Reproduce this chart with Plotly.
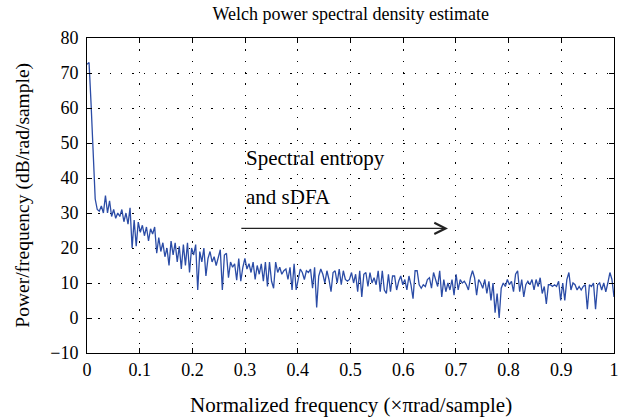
import numpy as np
import plotly.graph_objects as go

# Welch PSD estimate (dB/rad/sample), 0..1 (x pi rad/sample)
psd_db = [
    72.5, 73, 61, 47, 34, 31, 30.5, 32, 30, 35, 30, 33.5, 29, 31, 28.5, 30,
    29, 31, 27.5, 30, 26.8, 31.5, 20, 28, 20.5, 27.4, 24.5, 26.5, 23.5, 26, 22, 25.5,
    24, 26, 18.5, 23, 19, 21.5, 17.5, 20, 15, 22, 18, 21.5, 16, 20.5, 14, 21,
    15, 21.5, 13, 20, 18, 21, 8, 19, 16, 20, 12, 17, 19, 16, 17.5, 15,
    17, 19.5, 8, 18, 18.5, 11.5, 16, 14.5, 15.5, 10.8, 17, 10.5, 14.5, 17, 14, 15.5,
    13, 16, 11, 15, 12.5, 15.5, 10.5, 16, 9, 16, 10.5, 8.5, 16, 13, 14.5, 12.5,
    13.5, 14, 11, 14.5, 8, 15.5, 8, 11, 14, 13, 11, 13.5, 13, 14, 8.5, 14.5,
    3, 12, 14, 12.5, 10, 13.5, 11, 7.5, 13, 13.5, 10, 14, 9.5, 13.5, 11, 10.5,
    11, 13, 10, 12.5, 7.5, 13.5, 6, 12.5, 13, 9, 13, 10, 11.5, 9.5, 13.5, 7.5,
    13.5, 8, 7, 12.5, 7.5, 12, 12, 8, 10.5, 12, 9.5, 11, 8, 12, 9.5, 5.5,
    13.5, 13.5, 9.5, 8.5, 9.5, 9, 11, 11.5, 8.5, 13, 11, 9, 13.5, 6,
    11, 7.5, 10, 8, 11, 6.5, 12.5, 8, 11, 10, 10.5, 9.5, 8, 11.5, 13.5, 11.5,
    6.5, 11, 10, 8.5, 11, 7, 10.5, 5, 10, 1.5, 7, 0, 8.5, 10, 9, 11,
    9.5, 10.5, 7.5, 12.5, 13.5, 7.5,
    11, 6, 9.5, 10.5, 9.5, 11, 8, 11, 9, 11.5, 7, 9, 4, 9.5, 9.5, 9,
    9.5, 9, 10.5, 5, 10, 5, 11, 13, 8, 10, 9.5, 8, 9, 8, 9, 9.5,
    2.5, 9.5, 9, 10, 2.5, 9.5, 10, 8, 10, 7.5, 10, 13, 11, 6,
]
freq = np.linspace(0, 1, len(psd_db))

x_ticks = [0, 0.1, 0.2, 0.3, 0.4, 0.5, 0.6, 0.7, 0.8, 0.9, 1]
x_tick_labels = ["0", "0.1", "0.2", "0.3", "0.4", "0.5", "0.6", "0.7", "0.8", "0.9", "1"]
y_ticks = [-10, 0, 10, 20, 30, 40, 50, 60, 70, 80]
y_tick_labels = ["\u221210", "0", "10", "20", "30", "40", "50", "60", "70", "80"]

SERIF = "Liberation Serif, Times New Roman, serif"

fig = go.Figure()
fig.add_trace(go.Scatter(x=freq, y=psd_db, mode="lines",
                         line=dict(color="#2b4ca6", width=1.3),
                         showlegend=False, hoverinfo="skip"))

axis_common = dict(
    showline=True, linecolor="black", linewidth=1, mirror="ticks",
    ticks="inside", ticklen=5, tickcolor="black", tickwidth=1,
    showgrid=True, gridcolor="black", gridwidth=1, griddash="1.3px,10px",
    zeroline=False, automargin=False,
    tickfont=dict(family=SERIF, size=18, color="black"),
)

fig.update_xaxes(range=[0, 1], tickvals=x_ticks, ticktext=x_tick_labels, **axis_common)
fig.update_yaxes(range=[-10, 80], tickvals=y_ticks, ticktext=y_tick_labels,
                 ticklabelstandoff=4, **axis_common)

# axis titles as annotations (fixed placement)
fig.add_annotation(x=0.5, y=-0.165, xref="paper", yref="paper",
                   text="Normalized frequency (\u00d7\u03c0rad/sample)", showarrow=False,
                   xanchor="center", yanchor="middle",
                   font=dict(family=SERIF, size=21, color="black"))
fig.add_annotation(x=-0.123, y=0.5, xref="paper", yref="paper",
                   text="Power/frequency (dB/rad/sample)", showarrow=False, textangle=-90,
                   xanchor="center", yanchor="middle",
                   font=dict(family=SERIF, size=19.5, color="black"))

# arrow annotation
fig.add_annotation(x=0.685, y=25.6, ax=0.29, ay=25.6, xref="x", yref="y",
                   axref="x", ayref="y", text="", showarrow=True,
                   arrowhead=5, arrowsize=1.7, arrowwidth=1.3, arrowcolor="#222222")
fig.add_annotation(x=0.297, y=45.6, xref="x", yref="y", text="Spectral entropy",
                   showarrow=False, xanchor="left", yanchor="middle",
                   font=dict(family=SERIF, size=21, color="black"))
fig.add_annotation(x=0.297, y=34.5, xref="x", yref="y", text="and sDFA",
                   showarrow=False, xanchor="left", yanchor="middle",
                   font=dict(family=SERIF, size=21, color="black"))

fig.update_layout(
    width=628, height=418,
    margin=dict(l=87, r=14, t=38, b=65),
    paper_bgcolor="white", plot_bgcolor="white",
    title=dict(text="Welch power spectral density estimate", x=0.5585, xanchor="center",
               y=1 - 14 / 418, yanchor="middle",
               font=dict(family=SERIF, size=18, color="black")),
)

fig.write_html("out.html", config={"displayModeBar": False},
               post_script="document.body.style.margin='0px';")
